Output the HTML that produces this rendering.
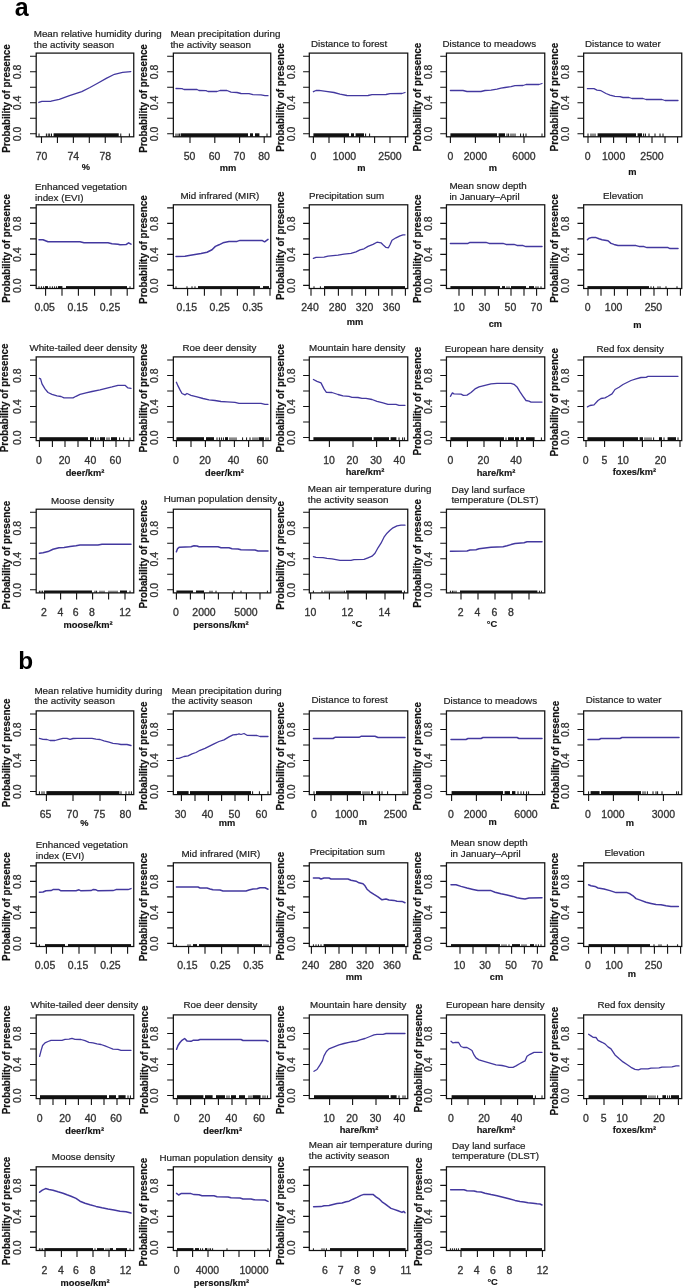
<!DOCTYPE html>
<html><head><meta charset="utf-8"><title>Figure</title>
<style>
html,body{margin:0;padding:0;background:#fff;}
svg{display:block;filter:blur(0.45px);font-family:"Liberation Sans",sans-serif;}
.tt{font-size:9.8px;fill:#222;stroke:#222;stroke-width:0.2px;}
.tk{font-size:10px;fill:#333;stroke:#333;stroke-width:0.3px;}
.yl{font-size:10.4px;font-weight:bold;fill:#111;stroke:#111;stroke-width:0.2px;}
.un{font-size:9.8px;font-weight:bold;fill:#111;stroke:#111;stroke-width:0.15px;}
.sec{font-size:25px;font-weight:bold;fill:#000;}
</style></head><body>
<svg width="685" height="1288" viewBox="0 0 685 1288">
<rect width="685" height="1288" fill="#fff"/>
<text class="sec" x="14.7" y="15.5">a</text>
<text class="sec" x="18.2" y="669.4" style="font-size:24.4px">b</text>
<g transform="translate(0,20.1)">
<rect x="36.2" y="33" width="97.55" height="83.7" fill="none" stroke="#111" stroke-width="1.25"/>
<path d="M30 113.6H36.2M30 98.1H36.2M30 82.6H36.2M30 67.1H36.2M30 51.6H36.2M30 36.1H36.2" stroke="#111" stroke-width="1.1" fill="none"/>
<text class="tk" transform="translate(20.8,113.9) rotate(-90) scale(1.05,1)" text-anchor="middle">0.0</text>
<text class="tk" transform="translate(20.8,82.9) rotate(-90) scale(1.05,1)" text-anchor="middle">0.4</text>
<text class="tk" transform="translate(20.8,51.9) rotate(-90) scale(1.05,1)" text-anchor="middle">0.8</text>
<text class="yl" transform="translate(10,78.48) rotate(-90) scale(0.945,1)" text-anchor="middle">Probability of presence</text>
<text class="tt" x="33.73" y="17.37">Mean relative humidity during</text>
<text class="tt" x="33.73" y="27.59">the activity season</text>
<path d="M41.49 116.7V123M57.43 116.7V123M73.37 116.7V123M89.31 116.7V123M105.25 116.7V123M121.19 116.7V123" stroke="#111" stroke-width="1.1" fill="none"/>
<text class="tk" transform="translate(41.49,139.9) scale(1.05,1)" text-anchor="middle">70</text>
<text class="tk" transform="translate(73.37,139.9) scale(1.05,1)" text-anchor="middle">74</text>
<text class="tk" transform="translate(105.25,139.9) scale(1.05,1)" text-anchor="middle">78</text>
<text class="un" transform="translate(85.84,150.3) scale(0.95,1)" text-anchor="middle">%</text>
<rect x="53.55" y="113.2" width="65.2" height="3.5" fill="#111"/>
<path d="M39.04 113.4V116.7M46.39 113.4V116.7M48.23 113.4V116.7M49.66 113.4V116.7M51.5 113.4V116.7M120.78 113.4V116.7M129.37 113.4V116.7" stroke="#111" stroke-width="1" fill="none"/>
<polyline points="38.83,82.36 41.9,81.34 51.09,81.14 59.27,79.3 69.49,75.62 81.75,71.53 89.92,67.44 98.1,62.95 106.27,58.25 114.45,54.16 122.62,52.32 130.8,51.5" fill="none" stroke="#43389f" stroke-width="1.3" stroke-linejoin="round" stroke-linecap="round"/>
</g>
<g transform="translate(137,20.1)">
<rect x="36.35" y="33" width="97.4" height="83.7" fill="none" stroke="#111" stroke-width="1.25"/>
<path d="M30.15 113.6H36.35M30.15 98.1H36.35M30.15 82.6H36.35M30.15 67.1H36.35M30.15 51.6H36.35M30.15 36.1H36.35" stroke="#111" stroke-width="1.1" fill="none"/>
<text class="tk" transform="translate(20.8,113.9) rotate(-90) scale(1.05,1)" text-anchor="middle">0.0</text>
<text class="tk" transform="translate(20.8,82.9) rotate(-90) scale(1.05,1)" text-anchor="middle">0.4</text>
<text class="tk" transform="translate(20.8,51.9) rotate(-90) scale(1.05,1)" text-anchor="middle">0.8</text>
<text class="yl" transform="translate(10,78.4) rotate(-90) scale(0.945,1)" text-anchor="middle">Probability of presence</text>
<text class="tt" x="33.4" y="17.4">Mean precipitation during</text>
<text class="tt" x="33.4" y="27.6">the activity season</text>
<path d="M53 116.7V123M77.8 116.7V123M102.6 116.7V123M127.2 116.7V123" stroke="#111" stroke-width="1.1" fill="none"/>
<text class="tk" transform="translate(52.6,139.9) scale(1.05,1)" text-anchor="middle">50</text>
<text class="tk" transform="translate(77.6,139.9) scale(1.05,1)" text-anchor="middle">60</text>
<text class="tk" transform="translate(102.4,139.9) scale(1.05,1)" text-anchor="middle">70</text>
<text class="tk" transform="translate(127,139.9) scale(1.05,1)" text-anchor="middle">80</text>
<text class="un" transform="translate(91,151.1) scale(0.95,1)" text-anchor="middle">mm</text>
<rect x="43.6" y="113.2" width="67.4" height="3.5" fill="#111"/>
<rect x="113" y="113.2" width="3" height="3.5" fill="#111"/>
<rect x="118" y="113.2" width="4.4" height="3.5" fill="#111"/>
<path d="M39 113.4V116.7M41 113.4V116.7M42.4 113.4V116.7M130 113.4V116.7" stroke="#111" stroke-width="1" fill="none"/>
<polyline points="39,68.4 45,68.6 47,69.4 60,69.4 62,70.4 69,70.6 71,71.4 80,71.4 83,70.4 90,70.4 94,72 100,72.4 104,73.4 112,73.6 116,74.6 124,74.8 128,75.6 131,75.6" fill="none" stroke="#43389f" stroke-width="1.3" stroke-linejoin="round" stroke-linecap="round"/>
</g>
<g transform="translate(274,20.1)">
<rect x="35.3" y="33" width="98.45" height="83.7" fill="none" stroke="#111" stroke-width="1.25"/>
<path d="M29.1 113.6H35.3M29.1 98.1H35.3M29.1 82.6H35.3M29.1 67.1H35.3M29.1 51.6H35.3M29.1 36.1H35.3" stroke="#111" stroke-width="1.1" fill="none"/>
<text class="tk" transform="translate(20.8,113.9) rotate(-90) scale(1.05,1)" text-anchor="middle">0.0</text>
<text class="tk" transform="translate(20.8,82.9) rotate(-90) scale(1.05,1)" text-anchor="middle">0.4</text>
<text class="tk" transform="translate(20.8,51.9) rotate(-90) scale(1.05,1)" text-anchor="middle">0.8</text>
<text class="yl" transform="translate(10,77.4) rotate(-90) scale(0.945,1)" text-anchor="middle">Probability of presence</text>
<text class="tt" x="37" y="26.6">Distance to forest</text>
<path d="M39.4 116.7V123M55 116.7V123M70.4 116.7V123M85.6 116.7V123M100.6 116.7V123M116 116.7V123M131.4 116.7V123" stroke="#111" stroke-width="1.1" fill="none"/>
<text class="tk" transform="translate(39.4,139.9) scale(1.05,1)" text-anchor="middle">0</text>
<text class="tk" transform="translate(70.4,139.9) scale(1.05,1)" text-anchor="middle">1000</text>
<text class="tk" transform="translate(116,139.9) scale(1.05,1)" text-anchor="middle">2500</text>
<text class="un" transform="translate(87.4,151.1) scale(0.95,1)" text-anchor="middle">m</text>
<rect x="39.4" y="113.2" width="35.6" height="3.5" fill="#111"/>
<rect x="77" y="113.2" width="3" height="3.5" fill="#111"/>
<rect x="81.6" y="113.2" width="8.4" height="3.5" fill="#111"/>
<path d="M91.6 113.4V116.7M95.6 113.4V116.7" stroke="#111" stroke-width="1" fill="none"/>
<polyline points="39.4,71.6 42,70.4 45,70.2 52,71.2 60,72.4 66,74 73,75.4 80,75.6 94,75.4 98,74.6 112,74.4 116,73.6 128,73.4 131,72.4" fill="none" stroke="#43389f" stroke-width="1.3" stroke-linejoin="round" stroke-linecap="round"/>
</g>
<g transform="translate(411,20.1)">
<rect x="35.45" y="33" width="98.3" height="83.7" fill="none" stroke="#111" stroke-width="1.25"/>
<path d="M29.25 113.6H35.45M29.25 98.1H35.45M29.25 82.6H35.45M29.25 67.1H35.45M29.25 51.6H35.45M29.25 36.1H35.45" stroke="#111" stroke-width="1.1" fill="none"/>
<text class="tk" transform="translate(20.8,113.9) rotate(-90) scale(1.05,1)" text-anchor="middle">0.0</text>
<text class="tk" transform="translate(20.8,82.9) rotate(-90) scale(1.05,1)" text-anchor="middle">0.4</text>
<text class="tk" transform="translate(20.8,51.9) rotate(-90) scale(1.05,1)" text-anchor="middle">0.8</text>
<text class="yl" transform="translate(10,77) rotate(-90) scale(0.945,1)" text-anchor="middle">Probability of presence</text>
<text class="tt" x="31.4" y="27.4">Distance to meadows</text>
<path d="M39.4 116.7V123M64.4 116.7V123M88.6 116.7V123M113 116.7V123" stroke="#111" stroke-width="1.1" fill="none"/>
<text class="tk" transform="translate(39.4,139.9) scale(1.05,1)" text-anchor="middle">0</text>
<text class="tk" transform="translate(64.4,139.9) scale(1.05,1)" text-anchor="middle">2000</text>
<text class="tk" transform="translate(113,139.9) scale(1.05,1)" text-anchor="middle">6000</text>
<text class="un" transform="translate(82,150.7) scale(0.95,1)" text-anchor="middle">m</text>
<rect x="39.4" y="113.2" width="46.6" height="3.5" fill="#111"/>
<rect x="87.6" y="113.2" width="6.4" height="3.5" fill="#111"/>
<path d="M96 113.4V116.7M97.6 113.4V116.7M100 113.4V116.7M102 113.4V116.7M104 113.4V116.7M109.6 113.4V116.7M112.4 113.4V116.7M115 113.4V116.7M131 113.4V116.7" stroke="#111" stroke-width="1" fill="none"/>
<polyline points="39.4,70.4 52,70.4 56,71.4 70,71.4 74,70.4 80,70 86,69 90,68 94,67.4 100,66.6 104,65.6 112,65.4 115,64.4 128,64.4 131,63.4" fill="none" stroke="#43389f" stroke-width="1.3" stroke-linejoin="round" stroke-linecap="round"/>
</g>
<g transform="translate(548,20.1)">
<rect x="35.65" y="33" width="98.1" height="83.7" fill="none" stroke="#111" stroke-width="1.25"/>
<path d="M29.45 113.6H35.65M29.45 98.1H35.65M29.45 82.6H35.65M29.45 67.1H35.65M29.45 51.6H35.65M29.45 36.1H35.65" stroke="#111" stroke-width="1.1" fill="none"/>
<text class="tk" transform="translate(20.8,113.9) rotate(-90) scale(1.05,1)" text-anchor="middle">0.0</text>
<text class="tk" transform="translate(20.8,82.9) rotate(-90) scale(1.05,1)" text-anchor="middle">0.4</text>
<text class="tk" transform="translate(20.8,51.9) rotate(-90) scale(1.05,1)" text-anchor="middle">0.8</text>
<text class="yl" transform="translate(10,77) rotate(-90) scale(0.945,1)" text-anchor="middle">Probability of presence</text>
<text class="tt" x="37" y="26.6">Distance to water</text>
<path d="M40 116.7V123M52.6 116.7V123M65.6 116.7V123M78.4 116.7V123M91.4 116.7V123M104 116.7V123M117 116.7V123M129.6 116.7V123" stroke="#111" stroke-width="1.1" fill="none"/>
<text class="tk" transform="translate(39.6,139.9) scale(1.05,1)" text-anchor="middle">0</text>
<text class="tk" transform="translate(65.6,139.9) scale(1.05,1)" text-anchor="middle">1000</text>
<text class="tk" transform="translate(104,139.9) scale(1.05,1)" text-anchor="middle">2500</text>
<text class="un" transform="translate(84.4,155.1) scale(0.95,1)" text-anchor="middle">m</text>
<rect x="49.6" y="113.2" width="38.4" height="3.5" fill="#111"/>
<rect x="89.6" y="113.2" width="4.4" height="3.5" fill="#111"/>
<path d="M40 113.4V116.7M43 113.4V116.7M45 113.4V116.7M47 113.4V116.7M95.6 113.4V116.7M97.4 113.4V116.7M101 113.4V116.7M107 113.4V116.7M112 113.4V116.7M115 113.4V116.7" stroke="#111" stroke-width="1" fill="none"/>
<polyline points="39.4,68.6 46,68.6 49,70 53,70.6 58,73.4 62,75 67,76.2 72,76.6 75,77.4 81,77.4 84,78.4 95,78.4 98,79.4 114,79.4 117,80.4 130,80.4" fill="none" stroke="#43389f" stroke-width="1.3" stroke-linejoin="round" stroke-linecap="round"/>
</g>
<g transform="translate(0,171.8)">
<rect x="36.2" y="33" width="97.55" height="83.7" fill="none" stroke="#111" stroke-width="1.25"/>
<path d="M30 113.6H36.2M30 98.1H36.2M30 82.6H36.2M30 67.1H36.2M30 51.6H36.2M30 36.1H36.2" stroke="#111" stroke-width="1.1" fill="none"/>
<text class="tk" transform="translate(20.8,113.9) rotate(-90) scale(1.05,1)" text-anchor="middle">0.0</text>
<text class="tk" transform="translate(20.8,82.9) rotate(-90) scale(1.05,1)" text-anchor="middle">0.4</text>
<text class="tk" transform="translate(20.8,51.9) rotate(-90) scale(1.05,1)" text-anchor="middle">0.8</text>
<text class="yl" transform="translate(10,76.6) rotate(-90) scale(0.945,1)" text-anchor="middle">Probability of presence</text>
<text class="tt" x="35" y="18.6">Enhanced vegetation</text>
<text class="tt" x="35" y="29.6">index (EVI)</text>
<path d="M45.6 116.7V123.9M62 116.7V123.9M78.4 116.7V123.9M94.6 116.7V123.9M111 116.7V123.9M127.2 116.7V123.9" stroke="#111" stroke-width="1.1" fill="none"/>
<text class="tk" transform="translate(44.6,139) scale(1.05,1)" text-anchor="middle">0.05</text>
<text class="tk" transform="translate(77.6,139) scale(1.05,1)" text-anchor="middle">0.15</text>
<text class="tk" transform="translate(110,139) scale(1.05,1)" text-anchor="middle">0.25</text>
<rect x="45" y="114.3" width="3" height="2.4" fill="#111"/>
<rect x="58" y="114.3" width="4.4" height="2.4" fill="#111"/>
<rect x="66" y="114.3" width="61" height="2.4" fill="#111"/>
<path d="M39 114.5V116.7M41.4 114.5V116.7M43.6 114.5V116.7M50 114.5V116.7M52.4 114.5V116.7M54.6 114.5V116.7M56.6 114.5V116.7M130 114.5V116.7" stroke="#111" stroke-width="1" fill="none"/>
<polyline points="39,68 43,68 48,70 80,70 84,71 108,71 112,72 118,72.4 120,73 126,72.8 128.6,71 131,72.4" fill="none" stroke="#43389f" stroke-width="1.5" stroke-linejoin="round" stroke-linecap="round"/>
</g>
<g transform="translate(137,171.8)">
<rect x="36.35" y="33" width="97.4" height="83.7" fill="none" stroke="#111" stroke-width="1.25"/>
<path d="M30.15 113.6H36.35M30.15 98.1H36.35M30.15 82.6H36.35M30.15 67.1H36.35M30.15 51.6H36.35M30.15 36.1H36.35" stroke="#111" stroke-width="1.1" fill="none"/>
<text class="tk" transform="translate(20.8,113.9) rotate(-90) scale(1.05,1)" text-anchor="middle">0.0</text>
<text class="tk" transform="translate(20.8,82.9) rotate(-90) scale(1.05,1)" text-anchor="middle">0.4</text>
<text class="tk" transform="translate(20.8,51.9) rotate(-90) scale(1.05,1)" text-anchor="middle">0.8</text>
<text class="yl" transform="translate(10,77.8) rotate(-90) scale(0.945,1)" text-anchor="middle">Probability of presence</text>
<text class="tt" x="43.4" y="27.6">Mid infrared (MIR)</text>
<path d="M50.6 116.7V123.9M67.4 116.7V123.9M84 116.7V123.9M100.4 116.7V123.9M117 116.7V123.9M133 116.7V123.9" stroke="#111" stroke-width="1.1" fill="none"/>
<text class="tk" transform="translate(49.8,139) scale(1.05,1)" text-anchor="middle">0.15</text>
<text class="tk" transform="translate(82.6,139) scale(1.05,1)" text-anchor="middle">0.25</text>
<text class="tk" transform="translate(115.6,139) scale(1.05,1)" text-anchor="middle">0.35</text>
<rect x="61" y="114.3" width="62" height="2.4" fill="#111"/>
<rect x="126" y="114.3" width="6" height="2.4" fill="#111"/>
<path d="M39 114.5V116.7M50 114.5V116.7M55 114.5V116.7M58 114.5V116.7" stroke="#111" stroke-width="1" fill="none"/>
<polyline points="39,84.6 48,84.4 52,83.6 58,82.6 64,81.6 70,80.4 75,78 78.4,74.6 82,73 86,71 92,69.8 100,69.6 103,68.6 125,68.6 127.6,70 131,67.6" fill="none" stroke="#43389f" stroke-width="1.5" stroke-linejoin="round" stroke-linecap="round"/>
</g>
<g transform="translate(274,171.8)">
<rect x="35.3" y="33" width="98.45" height="83.7" fill="none" stroke="#111" stroke-width="1.25"/>
<path d="M29.1 113.6H35.3M29.1 98.1H35.3M29.1 82.6H35.3M29.1 67.1H35.3M29.1 51.6H35.3M29.1 36.1H35.3" stroke="#111" stroke-width="1.1" fill="none"/>
<text class="tk" transform="translate(20.8,113.9) rotate(-90) scale(1.05,1)" text-anchor="middle">0.0</text>
<text class="tk" transform="translate(20.8,82.9) rotate(-90) scale(1.05,1)" text-anchor="middle">0.4</text>
<text class="tk" transform="translate(20.8,51.9) rotate(-90) scale(1.05,1)" text-anchor="middle">0.8</text>
<text class="yl" transform="translate(10,74) rotate(-90) scale(0.945,1)" text-anchor="middle">Probability of presence</text>
<text class="tt" x="35" y="27">Precipitation sum</text>
<path d="M37 116.7V123.9M50.6 116.7V123.9M64.4 116.7V123.9M78 116.7V123.9M91.6 116.7V123.9M104.6 116.7V123.9M118 116.7V123.9M131.4 116.7V123.9" stroke="#111" stroke-width="1.1" fill="none"/>
<text class="tk" transform="translate(36,139) scale(1.05,1)" text-anchor="middle">240</text>
<text class="tk" transform="translate(63.6,139) scale(1.05,1)" text-anchor="middle">280</text>
<text class="tk" transform="translate(90.6,139) scale(1.05,1)" text-anchor="middle">320</text>
<text class="tk" transform="translate(117.6,139) scale(1.05,1)" text-anchor="middle">360</text>
<text class="un" transform="translate(81,152.7) scale(0.95,1)" text-anchor="middle">mm</text>
<rect x="50" y="114.3" width="81" height="2.4" fill="#111"/>
<path d="M40 114.5V116.7M46.4 114.5V116.7" stroke="#111" stroke-width="1" fill="none"/>
<polyline points="39.4,86.6 42,85.6 50,85.4 54,84.4 64,83.4 70,82.4 77,81.6 82,80 86,78 90,77 94,74.6 99,72.6 103,70.4 107,71 109,73 112,75.6 114.4,76 116,73 118,68.4 122,66 126,64 129,63 131,63" fill="none" stroke="#43389f" stroke-width="1.3" stroke-linejoin="round" stroke-linecap="round"/>
</g>
<g transform="translate(411,171.8)">
<rect x="35.45" y="33" width="98.3" height="83.7" fill="none" stroke="#111" stroke-width="1.25"/>
<path d="M29.25 113.6H35.45M29.25 98.1H35.45M29.25 82.6H35.45M29.25 67.1H35.45M29.25 51.6H35.45M29.25 36.1H35.45" stroke="#111" stroke-width="1.1" fill="none"/>
<text class="tk" transform="translate(20.8,113.9) rotate(-90) scale(1.05,1)" text-anchor="middle">0.0</text>
<text class="tk" transform="translate(20.8,82.9) rotate(-90) scale(1.05,1)" text-anchor="middle">0.4</text>
<text class="tk" transform="translate(20.8,51.9) rotate(-90) scale(1.05,1)" text-anchor="middle">0.8</text>
<text class="yl" transform="translate(10,77) rotate(-90) scale(0.945,1)" text-anchor="middle">Probability of presence</text>
<text class="tt" x="38.4" y="17.6">Mean snow depth</text>
<text class="tt" x="38.4" y="28">in January–April</text>
<path d="M48 116.7V123.9M61.4 116.7V123.9M74 116.7V123.9M87.4 116.7V123.9M100 116.7V123.9M113 116.7V123.9M125.6 116.7V123.9" stroke="#111" stroke-width="1.1" fill="none"/>
<text class="tk" transform="translate(48,139) scale(1.05,1)" text-anchor="middle">10</text>
<text class="tk" transform="translate(73.4,139) scale(1.05,1)" text-anchor="middle">30</text>
<text class="tk" transform="translate(99.4,139) scale(1.05,1)" text-anchor="middle">50</text>
<text class="tk" transform="translate(125.4,139) scale(1.05,1)" text-anchor="middle">70</text>
<text class="un" transform="translate(84.4,155.1) scale(0.95,1)" text-anchor="middle">cm</text>
<rect x="39.4" y="114.3" width="49.6" height="2.4" fill="#111"/>
<rect x="91" y="114.3" width="3" height="2.4" fill="#111"/>
<rect x="100" y="114.3" width="15" height="2.4" fill="#111"/>
<rect x="118" y="114.3" width="5" height="2.4" fill="#111"/>
<path d="M96 114.5V116.7M98 114.5V116.7M125 114.5V116.7M127 114.5V116.7M130 114.5V116.7" stroke="#111" stroke-width="1" fill="none"/>
<polyline points="39.4,71.6 57,71.6 59,70.6 75,70.6 78,71.6 92,71.6 95,72.6 103,72.6 106,73.6 112,73.8 115,74.8 131,74.8" fill="none" stroke="#43389f" stroke-width="1.5" stroke-linejoin="round" stroke-linecap="round"/>
</g>
<g transform="translate(548,171.8)">
<rect x="35.65" y="33" width="98.1" height="83.7" fill="none" stroke="#111" stroke-width="1.25"/>
<path d="M29.45 113.6H35.65M29.45 98.1H35.65M29.45 82.6H35.65M29.45 67.1H35.65M29.45 51.6H35.65M29.45 36.1H35.65" stroke="#111" stroke-width="1.1" fill="none"/>
<text class="tk" transform="translate(20.8,113.9) rotate(-90) scale(1.05,1)" text-anchor="middle">0.0</text>
<text class="tk" transform="translate(20.8,82.9) rotate(-90) scale(1.05,1)" text-anchor="middle">0.4</text>
<text class="tk" transform="translate(20.8,51.9) rotate(-90) scale(1.05,1)" text-anchor="middle">0.8</text>
<text class="yl" transform="translate(10,76.6) rotate(-90) scale(0.945,1)" text-anchor="middle">Probability of presence</text>
<text class="tt" x="55" y="27.4">Elevation</text>
<path d="M40 116.7V123.9M53 116.7V123.9M66.4 116.7V123.9M79.4 116.7V123.9M92.6 116.7V123.9M106 116.7V123.9M119.4 116.7V123.9M132.4 116.7V123.9" stroke="#111" stroke-width="1.1" fill="none"/>
<text class="tk" transform="translate(39.6,139) scale(1.05,1)" text-anchor="middle">0</text>
<text class="tk" transform="translate(65.6,139) scale(1.05,1)" text-anchor="middle">100</text>
<text class="tk" transform="translate(105.4,139) scale(1.05,1)" text-anchor="middle">250</text>
<text class="un" transform="translate(89.4,155.7) scale(0.95,1)" text-anchor="middle">m</text>
<rect x="39.4" y="114.3" width="61.6" height="2.4" fill="#111"/>
<path d="M103 114.5V116.7M105.6 114.5V116.7M110 114.5V116.7M112 114.5V116.7M118 114.5V116.7M129 114.5V116.7" stroke="#111" stroke-width="1" fill="none"/>
<polyline points="39.4,68 41,66.4 44,65.6 48,65.8 51,67 54,68 57,68.4 60,69 63,71.6 66,72.6 70,73.6 88,73.8 91,74.6 96,74.8 99,75.8 120,75.8 122,76.8 130,76.8" fill="none" stroke="#43389f" stroke-width="1.5" stroke-linejoin="round" stroke-linecap="round"/>
</g>
<g transform="translate(0,323.9)">
<rect x="36.2" y="33" width="97.55" height="83.7" fill="none" stroke="#111" stroke-width="1.25"/>
<path d="M30 113.6H36.2M30 98.1H36.2M30 82.6H36.2M30 67.1H36.2M30 51.6H36.2M30 36.1H36.2" stroke="#111" stroke-width="1.1" fill="none"/>
<text class="tk" transform="translate(20.8,113.9) rotate(-90) scale(1.05,1)" text-anchor="middle">0.0</text>
<text class="tk" transform="translate(20.8,82.9) rotate(-90) scale(1.05,1)" text-anchor="middle">0.4</text>
<text class="tk" transform="translate(20.8,51.9) rotate(-90) scale(1.05,1)" text-anchor="middle">0.8</text>
<text class="yl" transform="translate(7.8,74) rotate(-90) scale(0.945,1)" text-anchor="middle">Probability of presence</text>
<text class="tt" x="29.4" y="27">White-tailed deer density</text>
<path d="M39.4 116.7V123M52.4 116.7V123M65 116.7V123M78 116.7V123M90.6 116.7V123M103.4 116.7V123M116 116.7V123M129 116.7V123" stroke="#111" stroke-width="1.1" fill="none"/>
<text class="tk" transform="translate(39,139.9) scale(1.05,1)" text-anchor="middle">0</text>
<text class="tk" transform="translate(64.6,139.9) scale(1.05,1)" text-anchor="middle">20</text>
<text class="tk" transform="translate(90.4,139.9) scale(1.05,1)" text-anchor="middle">40</text>
<text class="tk" transform="translate(115.4,139.9) scale(1.05,1)" text-anchor="middle">60</text>
<text class="un" transform="translate(85,152.1) scale(0.95,1)" text-anchor="middle">deer/km²</text>
<rect x="39.4" y="113.3" width="48.6" height="3.4" fill="#111"/>
<rect x="90" y="113.3" width="4" height="3.4" fill="#111"/>
<rect x="100" y="113.3" width="5" height="3.4" fill="#111"/>
<rect x="111" y="113.3" width="6" height="3.4" fill="#111"/>
<path d="M95.6 113.5V116.7M98 113.5V116.7M107 113.5V116.7M109 113.5V116.7M119.6 113.5V116.7M123.6 113.5V116.7M130 113.5V116.7" stroke="#111" stroke-width="1" fill="none"/>
<polyline points="39.4,54.4 40.6,55 42,60 45,65 48,68.6 52,70.4 57,72 61,72.6 64,74 73,74 76,72.4 80,70.4 86,69 92,67.6 100,66 106,64.4 112,63 118,61.4 125,61.4 128,64 131,64.4" fill="none" stroke="#43389f" stroke-width="1.3" stroke-linejoin="round" stroke-linecap="round"/>
</g>
<g transform="translate(137,323.9)">
<rect x="36.35" y="33" width="97.4" height="83.7" fill="none" stroke="#111" stroke-width="1.25"/>
<path d="M30.15 113.6H36.35M30.15 98.1H36.35M30.15 82.6H36.35M30.15 67.1H36.35M30.15 51.6H36.35M30.15 36.1H36.35" stroke="#111" stroke-width="1.1" fill="none"/>
<text class="tk" transform="translate(20.8,113.9) rotate(-90) scale(1.05,1)" text-anchor="middle">0.0</text>
<text class="tk" transform="translate(20.8,82.9) rotate(-90) scale(1.05,1)" text-anchor="middle">0.4</text>
<text class="tk" transform="translate(20.8,51.9) rotate(-90) scale(1.05,1)" text-anchor="middle">0.8</text>
<text class="yl" transform="translate(10,74.2) rotate(-90) scale(0.945,1)" text-anchor="middle">Probability of presence</text>
<text class="tt" x="45.4" y="27">Roe deer density</text>
<path d="M39.4 116.7V123M54 116.7V123M68.4 116.7V123M83 116.7V123M97.4 116.7V123M111.6 116.7V123M126 116.7V123" stroke="#111" stroke-width="1.1" fill="none"/>
<text class="tk" transform="translate(39,139.9) scale(1.05,1)" text-anchor="middle">0</text>
<text class="tk" transform="translate(68,139.9) scale(1.05,1)" text-anchor="middle">20</text>
<text class="tk" transform="translate(96.6,139.9) scale(1.05,1)" text-anchor="middle">40</text>
<text class="tk" transform="translate(125.4,139.9) scale(1.05,1)" text-anchor="middle">60</text>
<text class="un" transform="translate(87.4,152.1) scale(0.95,1)" text-anchor="middle">deer/km²</text>
<rect x="39.4" y="113.3" width="27.6" height="3.4" fill="#111"/>
<rect x="69" y="113.3" width="8" height="3.4" fill="#111"/>
<rect x="88" y="113.3" width="3" height="3.4" fill="#111"/>
<rect x="121.6" y="113.3" width="5.4" height="3.4" fill="#111"/>
<path d="M80 113.5V116.7M82.4 113.5V116.7M84.4 113.5V116.7M86.4 113.5V116.7M93 113.5V116.7M95 113.5V116.7M97 113.5V116.7M99 113.5V116.7M105.6 113.5V116.7M109.6 113.5V116.7M113 113.5V116.7M116 113.5V116.7M118 113.5V116.7M120 113.5V116.7M129 113.5V116.7M131 113.5V116.7" stroke="#111" stroke-width="1" fill="none"/>
<polyline points="39.4,58.4 41,62 43,66 45,69.6 48,71 50,69.6 54,71.4 60,73 66,74.6 72,76 78,76.6 84,77.6 90,78 98,78.4 102,79.4 124,79.4 128,80.4 131,80.4" fill="none" stroke="#43389f" stroke-width="1.3" stroke-linejoin="round" stroke-linecap="round"/>
</g>
<g transform="translate(274,323.9)">
<rect x="35.3" y="33" width="98.45" height="83.7" fill="none" stroke="#111" stroke-width="1.25"/>
<path d="M29.1 113.6H35.3M29.1 98.1H35.3M29.1 82.6H35.3M29.1 67.1H35.3M29.1 51.6H35.3M29.1 36.1H35.3" stroke="#111" stroke-width="1.1" fill="none"/>
<text class="tk" transform="translate(20.8,113.9) rotate(-90) scale(1.05,1)" text-anchor="middle">0.0</text>
<text class="tk" transform="translate(20.8,82.9) rotate(-90) scale(1.05,1)" text-anchor="middle">0.4</text>
<text class="tk" transform="translate(20.8,51.9) rotate(-90) scale(1.05,1)" text-anchor="middle">0.8</text>
<text class="yl" transform="translate(10,74.4) rotate(-90) scale(0.945,1)" text-anchor="middle">Probability of presence</text>
<text class="tt" x="35" y="27">Mountain hare density</text>
<path d="M55.4 116.7V123M79 116.7V123M102.6 116.7V123M125.6 116.7V123" stroke="#111" stroke-width="1.1" fill="none"/>
<text class="tk" transform="translate(55,139.9) scale(1.05,1)" text-anchor="middle">10</text>
<text class="tk" transform="translate(78.4,139.9) scale(1.05,1)" text-anchor="middle">20</text>
<text class="tk" transform="translate(102,139.9) scale(1.05,1)" text-anchor="middle">30</text>
<text class="tk" transform="translate(125.4,139.9) scale(1.05,1)" text-anchor="middle">40</text>
<text class="un" transform="translate(91,150.9) scale(0.95,1)" text-anchor="middle">hare/km²</text>
<rect x="39.4" y="113.3" width="58.6" height="3.4" fill="#111"/>
<rect x="99.6" y="113.3" width="15.4" height="3.4" fill="#111"/>
<rect x="116.6" y="113.3" width="5.8" height="3.4" fill="#111"/>
<path d="M125 113.5V116.7M128.6 113.5V116.7M130.4 113.5V116.7" stroke="#111" stroke-width="1" fill="none"/>
<polyline points="39.4,55.6 43,57.4 47,59 50,65 52.4,68.4 58,68.6 64,70.6 69,72 75,72.4 78,73.4 84,73.6 88,74.4 92,74.4 98,75.6 103,77.4 109,79 114,80.4 122,80.4 125,81.4 131,81.4" fill="none" stroke="#43389f" stroke-width="1.3" stroke-linejoin="round" stroke-linecap="round"/>
</g>
<g transform="translate(411,323.9)">
<rect x="35.45" y="33" width="98.3" height="83.7" fill="none" stroke="#111" stroke-width="1.25"/>
<path d="M29.25 113.6H35.45M29.25 98.1H35.45M29.25 82.6H35.45M29.25 67.1H35.45M29.25 51.6H35.45M29.25 36.1H35.45" stroke="#111" stroke-width="1.1" fill="none"/>
<text class="tk" transform="translate(20.8,113.9) rotate(-90) scale(1.05,1)" text-anchor="middle">0.0</text>
<text class="tk" transform="translate(20.8,82.9) rotate(-90) scale(1.05,1)" text-anchor="middle">0.4</text>
<text class="tk" transform="translate(20.8,51.9) rotate(-90) scale(1.05,1)" text-anchor="middle">0.8</text>
<text class="yl" transform="translate(10,77.2) rotate(-90) scale(0.945,1)" text-anchor="middle">Probability of presence</text>
<text class="tt" x="33.8" y="28.2">European hare density</text>
<path d="M39.6 116.7V123M56.4 116.7V123M73 116.7V123M89.4 116.7V123M106 116.7V123M122.4 116.7V123" stroke="#111" stroke-width="1.1" fill="none"/>
<text class="tk" transform="translate(39.4,139.9) scale(1.05,1)" text-anchor="middle">0</text>
<text class="tk" transform="translate(72.4,139.9) scale(1.05,1)" text-anchor="middle">20</text>
<text class="tk" transform="translate(105,139.9) scale(1.05,1)" text-anchor="middle">40</text>
<text class="un" transform="translate(85,151.7) scale(0.95,1)" text-anchor="middle">hare/km²</text>
<rect x="39.4" y="113.3" width="53.6" height="3.4" fill="#111"/>
<rect x="97" y="113.3" width="6" height="3.4" fill="#111"/>
<rect x="104" y="113.3" width="4" height="3.4" fill="#111"/>
<rect x="109.6" y="113.3" width="3.4" height="3.4" fill="#111"/>
<rect x="115" y="113.3" width="8.6" height="3.4" fill="#111"/>
<path d="M95 113.5V116.7M130.4 113.5V116.7" stroke="#111" stroke-width="1" fill="none"/>
<polyline points="39.4,72.4 41.4,69 43,70 50,70.2 52.4,71.4 56,71.2 60,68.6 64,65 68,63 74,61.4 80,60 86,59.4 100,59.4 103,60.4 106,63 109,68 112,72.4 115,76.6 118,77.2 120,78.2 131,78.2" fill="none" stroke="#43389f" stroke-width="1.3" stroke-linejoin="round" stroke-linecap="round"/>
</g>
<g transform="translate(548,323.9)">
<rect x="35.65" y="33" width="98.1" height="83.7" fill="none" stroke="#111" stroke-width="1.25"/>
<path d="M29.45 113.6H35.65M29.45 98.1H35.65M29.45 82.6H35.65M29.45 67.1H35.65M29.45 51.6H35.65M29.45 36.1H35.65" stroke="#111" stroke-width="1.1" fill="none"/>
<text class="tk" transform="translate(20.8,113.9) rotate(-90) scale(1.05,1)" text-anchor="middle">0.0</text>
<text class="tk" transform="translate(20.8,82.9) rotate(-90) scale(1.05,1)" text-anchor="middle">0.4</text>
<text class="tk" transform="translate(20.8,51.9) rotate(-90) scale(1.05,1)" text-anchor="middle">0.8</text>
<text class="yl" transform="translate(10,78.4) rotate(-90) scale(0.945,1)" text-anchor="middle">Probability of presence</text>
<text class="tt" x="48.4" y="28">Red fox density</text>
<path d="M38 116.7V123M56.6 116.7V123M75.4 116.7V123M94.4 116.7V123M113.4 116.7V123M132 116.7V123" stroke="#111" stroke-width="1.1" fill="none"/>
<text class="tk" transform="translate(37.6,139.9) scale(1.05,1)" text-anchor="middle">0</text>
<text class="tk" transform="translate(56.4,139.9) scale(1.05,1)" text-anchor="middle">5</text>
<text class="tk" transform="translate(75,139.9) scale(1.05,1)" text-anchor="middle">10</text>
<text class="tk" transform="translate(112.6,139.9) scale(1.05,1)" text-anchor="middle">20</text>
<text class="un" transform="translate(86.4,151.3) scale(0.95,1)" text-anchor="middle">foxes/km²</text>
<rect x="39.4" y="113.3" width="50.6" height="3.4" fill="#111"/>
<rect x="91.6" y="113.3" width="3.4" height="3.4" fill="#111"/>
<rect x="111" y="113.3" width="3" height="3.4" fill="#111"/>
<rect x="119.6" y="113.3" width="8.4" height="3.4" fill="#111"/>
<path d="M97 113.5V116.7M99 113.5V116.7M101 113.5V116.7M103 113.5V116.7M105.6 113.5V116.7M116 113.5V116.7M130 113.5V116.7" stroke="#111" stroke-width="1" fill="none"/>
<polyline points="39.4,83 42,81.6 46,81 50,76.6 53,74.6 57,74 60,72.4 64,70 67,65.6 71,63.4 75,60.6 79,58.6 83,56.6 88,55 93,53.6 98,53.4 100,52.4 130,52.4" fill="none" stroke="#43389f" stroke-width="1.3" stroke-linejoin="round" stroke-linecap="round"/>
</g>
<g transform="translate(0,476.2)">
<rect x="36.2" y="33" width="97.55" height="83.7" fill="none" stroke="#111" stroke-width="1.25"/>
<path d="M30 113.6H36.2M30 98.1H36.2M30 82.6H36.2M30 67.1H36.2M30 51.6H36.2M30 36.1H36.2" stroke="#111" stroke-width="1.1" fill="none"/>
<text class="tk" transform="translate(20.8,113.9) rotate(-90) scale(1.05,1)" text-anchor="middle">0.0</text>
<text class="tk" transform="translate(20.8,82.9) rotate(-90) scale(1.05,1)" text-anchor="middle">0.4</text>
<text class="tk" transform="translate(20.8,51.9) rotate(-90) scale(1.05,1)" text-anchor="middle">0.8</text>
<text class="yl" transform="translate(10,79) rotate(-90) scale(0.945,1)" text-anchor="middle">Probability of presence</text>
<text class="tt" x="51" y="27.8">Moose density</text>
<path d="M44.6 116.7V123.2M60.6 116.7V123.2M76.6 116.7V123.2M92.6 116.7V123.2M108.6 116.7V123.2M125 116.7V123.2" stroke="#111" stroke-width="1.1" fill="none"/>
<text class="tk" transform="translate(44,139.7) scale(1.05,1)" text-anchor="middle">2</text>
<text class="tk" transform="translate(60.4,139.7) scale(1.05,1)" text-anchor="middle">4</text>
<text class="tk" transform="translate(75.6,139.7) scale(1.05,1)" text-anchor="middle">6</text>
<text class="tk" transform="translate(92,139.7) scale(1.05,1)" text-anchor="middle">8</text>
<text class="tk" transform="translate(125,139.7) scale(1.05,1)" text-anchor="middle">12</text>
<text class="un" transform="translate(88,152.1) scale(0.95,1)" text-anchor="middle">moose/km²</text>
<rect x="44" y="114.3" width="48" height="2.4" fill="#111"/>
<rect x="120" y="114.3" width="7" height="2.4" fill="#111"/>
<path d="M39.4 114.5V116.7M41 114.5V116.7M42.6 114.5V116.7M95 114.5V116.7M96.6 114.5V116.7M100 114.5V116.7M102 114.5V116.7M104 114.5V116.7M109 114.5V116.7M111 114.5V116.7M113 114.5V116.7M115 114.5V116.7M117 114.5V116.7M130 114.5V116.7" stroke="#111" stroke-width="1" fill="none"/>
<polyline points="39.4,77 43,76.6 48,75.4 53,73 59,71.6 64,71.2 70,70.4 76,69.6 80,68.8 98,68.8 102,68 131,68" fill="none" stroke="#43389f" stroke-width="1.5" stroke-linejoin="round" stroke-linecap="round"/>
</g>
<g transform="translate(137,476.2)">
<rect x="36.35" y="33" width="97.4" height="83.7" fill="none" stroke="#111" stroke-width="1.25"/>
<path d="M30.15 113.6H36.35M30.15 98.1H36.35M30.15 82.6H36.35M30.15 67.1H36.35M30.15 51.6H36.35M30.15 36.1H36.35" stroke="#111" stroke-width="1.1" fill="none"/>
<text class="tk" transform="translate(20.8,113.9) rotate(-90) scale(1.05,1)" text-anchor="middle">0.0</text>
<text class="tk" transform="translate(20.8,82.9) rotate(-90) scale(1.05,1)" text-anchor="middle">0.4</text>
<text class="tk" transform="translate(20.8,51.9) rotate(-90) scale(1.05,1)" text-anchor="middle">0.8</text>
<text class="yl" transform="translate(10,78) rotate(-90) scale(0.945,1)" text-anchor="middle">Probability of presence</text>
<text class="tt" x="26.8" y="25.4">Human population density</text>
<path d="M39.4 116.7V123.2M53.4 116.7V123.2M67.4 116.7V123.2M81.4 116.7V123.2M95.4 116.7V123.2M109.4 116.7V123.2M123 116.7V123.2" stroke="#111" stroke-width="1.1" fill="none"/>
<text class="tk" transform="translate(39,139.7) scale(1.05,1)" text-anchor="middle">0</text>
<text class="tk" transform="translate(67,139.7) scale(1.05,1)" text-anchor="middle">2000</text>
<text class="tk" transform="translate(109,139.7) scale(1.05,1)" text-anchor="middle">5000</text>
<text class="un" transform="translate(84,152.1) scale(0.95,1)" text-anchor="middle">persons/km²</text>
<rect x="39.4" y="114.3" width="16.6" height="2.4" fill="#111"/>
<rect x="59" y="114.3" width="8" height="2.4" fill="#111"/>
<path d="M73 114.5V116.7M75 114.5V116.7M79 114.5V116.7M97 114.5V116.7M104 114.5V116.7M130.4 114.5V116.7" stroke="#111" stroke-width="1" fill="none"/>
<polyline points="39.4,75.6 40.6,72.4 42.4,71 54,70.6 57,69.6 60,69.8 62,70.6 81,70.6 84,71.6 92,71.6 95,72.6 101,72.8 104,73.6 118,73.8 121,74.8 131,74.8" fill="none" stroke="#43389f" stroke-width="1.5" stroke-linejoin="round" stroke-linecap="round"/>
</g>
<g transform="translate(274,476.2)">
<rect x="35.3" y="33" width="98.45" height="83.7" fill="none" stroke="#111" stroke-width="1.25"/>
<path d="M29.1 113.6H35.3M29.1 98.1H35.3M29.1 82.6H35.3M29.1 67.1H35.3M29.1 51.6H35.3M29.1 36.1H35.3" stroke="#111" stroke-width="1.1" fill="none"/>
<text class="tk" transform="translate(20.8,113.9) rotate(-90) scale(1.05,1)" text-anchor="middle">0.0</text>
<text class="tk" transform="translate(20.8,82.9) rotate(-90) scale(1.05,1)" text-anchor="middle">0.4</text>
<text class="tk" transform="translate(20.8,51.9) rotate(-90) scale(1.05,1)" text-anchor="middle">0.8</text>
<text class="yl" transform="translate(10,79.2) rotate(-90) scale(0.945,1)" text-anchor="middle">Probability of presence</text>
<text class="tt" x="33.8" y="16">Mean air temperature during</text>
<text class="tt" x="33.8" y="26.6">the activity season</text>
<path d="M36.6 116.7V123.2M55.4 116.7V123.2M74 116.7V123.2M92.4 116.7V123.2M111 116.7V123.2M129.6 116.7V123.2" stroke="#111" stroke-width="1.1" fill="none"/>
<text class="tk" transform="translate(36.4,139.7) scale(1.05,1)" text-anchor="middle">10</text>
<text class="tk" transform="translate(73.4,139.7) scale(1.05,1)" text-anchor="middle">12</text>
<text class="tk" transform="translate(110.4,139.7) scale(1.05,1)" text-anchor="middle">14</text>
<text class="un" transform="translate(83,150.7) scale(0.95,1)" text-anchor="middle">°C</text>
<rect x="72" y="114.3" width="56" height="2.4" fill="#111"/>
<path d="M39.4 114.5V116.7M48 114.5V116.7M51 114.5V116.7M53 114.5V116.7M55 114.5V116.7M57 114.5V116.7M59 114.5V116.7M61 114.5V116.7M63 114.5V116.7M65 114.5V116.7M67 114.5V116.7M69 114.5V116.7M70.6 114.5V116.7M130.4 114.5V116.7" stroke="#111" stroke-width="1" fill="none"/>
<polyline points="39.4,80.4 42,81.2 49,81.4 53,82.2 58,82.6 62,83.4 66,84.2 77,84.2 80,83.4 90,83.2 94,81.6 98,80 101,77 104,71.6 107,67 110,61 113,57 116,54 119,51.6 123,49.6 127,49 131,49" fill="none" stroke="#43389f" stroke-width="1.3" stroke-linejoin="round" stroke-linecap="round"/>
</g>
<g transform="translate(411,476.2)">
<rect x="35.45" y="33" width="98.3" height="83.7" fill="none" stroke="#111" stroke-width="1.25"/>
<path d="M29.25 113.6H35.45M29.25 98.1H35.45M29.25 82.6H35.45M29.25 67.1H35.45M29.25 51.6H35.45M29.25 36.1H35.45" stroke="#111" stroke-width="1.1" fill="none"/>
<text class="tk" transform="translate(20.8,113.9) rotate(-90) scale(1.05,1)" text-anchor="middle">0.0</text>
<text class="tk" transform="translate(20.8,82.9) rotate(-90) scale(1.05,1)" text-anchor="middle">0.4</text>
<text class="tk" transform="translate(20.8,51.9) rotate(-90) scale(1.05,1)" text-anchor="middle">0.8</text>
<text class="yl" transform="translate(10,77.2) rotate(-90) scale(0.945,1)" text-anchor="middle">Probability of presence</text>
<text class="tt" x="40.4" y="16.4">Day land surface</text>
<text class="tt" x="40.4" y="27">temperature (DLST)</text>
<path d="M50 116.7V123.2M67 116.7V123.2M84 116.7V123.2M101 116.7V123.2M118 116.7V123.2" stroke="#111" stroke-width="1.1" fill="none"/>
<text class="tk" transform="translate(49.6,139.7) scale(1.05,1)" text-anchor="middle">2</text>
<text class="tk" transform="translate(66.4,139.7) scale(1.05,1)" text-anchor="middle">4</text>
<text class="tk" transform="translate(83.4,139.7) scale(1.05,1)" text-anchor="middle">6</text>
<text class="tk" transform="translate(100,139.7) scale(1.05,1)" text-anchor="middle">8</text>
<text class="un" transform="translate(81,150.7) scale(0.95,1)" text-anchor="middle">°C</text>
<rect x="49" y="114.3" width="77.4" height="2.4" fill="#111"/>
<path d="M39.4 114.5V116.7M41.4 114.5V116.7M43 114.5V116.7M45 114.5V116.7M128.4 114.5V116.7M130.4 114.5V116.7" stroke="#111" stroke-width="1" fill="none"/>
<polyline points="39.4,75 56,74.8 59,73.8 65,73.6 68,72.6 74,71.8 80,71 92,70.6 96,69.6 100,68.4 104,67.4 113,66.6 116,65.6 131,65.6" fill="none" stroke="#43389f" stroke-width="1.5" stroke-linejoin="round" stroke-linecap="round"/>
</g>
<g transform="translate(0,677.9)">
<rect x="36.2" y="33" width="97.55" height="83.7" fill="none" stroke="#111" stroke-width="1.25"/>
<path d="M30 113.6H36.2M30 98.1H36.2M30 82.6H36.2M30 67.1H36.2M30 51.6H36.2M30 36.1H36.2" stroke="#111" stroke-width="1.1" fill="none"/>
<text class="tk" transform="translate(20.8,113.9) rotate(-90) scale(1.05,1)" text-anchor="middle">0.0</text>
<text class="tk" transform="translate(20.8,82.9) rotate(-90) scale(1.05,1)" text-anchor="middle">0.4</text>
<text class="tk" transform="translate(20.8,51.9) rotate(-90) scale(1.05,1)" text-anchor="middle">0.8</text>
<text class="yl" transform="translate(10,75) rotate(-90) scale(0.945,1)" text-anchor="middle">Probability of presence</text>
<text class="tt" x="34.4" y="16">Mean relative humidity during</text>
<text class="tt" x="34.4" y="26.6">the activity season</text>
<path d="M46.4 116.7V123M73 116.7V123M100 116.7V123M125.6 116.7V123" stroke="#111" stroke-width="1.1" fill="none"/>
<text class="tk" transform="translate(45.6,139.9) scale(1.05,1)" text-anchor="middle">65</text>
<text class="tk" transform="translate(72.4,139.9) scale(1.05,1)" text-anchor="middle">70</text>
<text class="tk" transform="translate(99.4,139.9) scale(1.05,1)" text-anchor="middle">75</text>
<text class="tk" transform="translate(125.4,139.9) scale(1.05,1)" text-anchor="middle">80</text>
<text class="un" transform="translate(84.4,147.7) scale(0.95,1)" text-anchor="middle">%</text>
<rect x="46.4" y="113.2" width="73" height="3.5" fill="#111"/>
<path d="M39.4 113.4V116.7M42 113.4V116.7M44 113.4V116.7M121 113.4V116.7M126 113.4V116.7M129 113.4V116.7M131.4 113.4V116.7" stroke="#111" stroke-width="1" fill="none"/>
<polyline points="39.4,60.4 43,61.4 47,61.6 50,62.6 55,62.6 59,61.4 63,60.4 67,60.4 70,61.4 73,60.6 77,60.4 92,60.4 96,61.2 100,61.6 104,63 109,64.2 113,65.4 118,66 121,66.6 127,66.6 131,67.6" fill="none" stroke="#43389f" stroke-width="1.3" stroke-linejoin="round" stroke-linecap="round"/>
</g>
<g transform="translate(137,677.9)">
<rect x="36.35" y="33" width="97.4" height="83.7" fill="none" stroke="#111" stroke-width="1.25"/>
<path d="M30.15 113.6H36.35M30.15 98.1H36.35M30.15 82.6H36.35M30.15 67.1H36.35M30.15 51.6H36.35M30.15 36.1H36.35" stroke="#111" stroke-width="1.1" fill="none"/>
<text class="tk" transform="translate(20.8,113.9) rotate(-90) scale(1.05,1)" text-anchor="middle">0.0</text>
<text class="tk" transform="translate(20.8,82.9) rotate(-90) scale(1.05,1)" text-anchor="middle">0.4</text>
<text class="tk" transform="translate(20.8,51.9) rotate(-90) scale(1.05,1)" text-anchor="middle">0.8</text>
<text class="yl" transform="translate(10,78) rotate(-90) scale(0.945,1)" text-anchor="middle">Probability of presence</text>
<text class="tt" x="34.8" y="16">Mean precipitation during</text>
<text class="tt" x="34.8" y="26.6">the activity season</text>
<path d="M44.4 116.7V123M58 116.7V123M71.4 116.7V123M84.6 116.7V123M98 116.7V123M111.4 116.7V123M124.6 116.7V123" stroke="#111" stroke-width="1.1" fill="none"/>
<text class="tk" transform="translate(43.6,139.9) scale(1.05,1)" text-anchor="middle">30</text>
<text class="tk" transform="translate(70.6,139.9) scale(1.05,1)" text-anchor="middle">40</text>
<text class="tk" transform="translate(97.4,139.9) scale(1.05,1)" text-anchor="middle">50</text>
<text class="tk" transform="translate(124.4,139.9) scale(1.05,1)" text-anchor="middle">60</text>
<text class="un" transform="translate(90,148.3) scale(0.95,1)" text-anchor="middle">mm</text>
<rect x="40" y="113.2" width="11.6" height="3.5" fill="#111"/>
<rect x="53" y="113.2" width="61" height="3.5" fill="#111"/>
<path d="M115.6 113.4V116.7M122.4 113.4V116.7M131 113.4V116.7" stroke="#111" stroke-width="1" fill="none"/>
<polyline points="39.4,80.4 42,80.4 47,78.6 51,78 55,76 59,74.6 63,72.4 68,70.4 73,68 77,66 82,63.6 87,62 92,59 96,57 100,56.6 102,56 104,56.6 107,55.6 110,57.4 120,57.6 123,58.6 131,58.6" fill="none" stroke="#43389f" stroke-width="1.3" stroke-linejoin="round" stroke-linecap="round"/>
</g>
<g transform="translate(274,677.9)">
<rect x="35.3" y="33" width="98.45" height="83.7" fill="none" stroke="#111" stroke-width="1.25"/>
<path d="M29.1 113.6H35.3M29.1 98.1H35.3M29.1 82.6H35.3M29.1 67.1H35.3M29.1 51.6H35.3M29.1 36.1H35.3" stroke="#111" stroke-width="1.1" fill="none"/>
<text class="tk" transform="translate(20.8,113.9) rotate(-90) scale(1.05,1)" text-anchor="middle">0.0</text>
<text class="tk" transform="translate(20.8,82.9) rotate(-90) scale(1.05,1)" text-anchor="middle">0.4</text>
<text class="tk" transform="translate(20.8,51.9) rotate(-90) scale(1.05,1)" text-anchor="middle">0.8</text>
<text class="yl" transform="translate(10,78.4) rotate(-90) scale(0.945,1)" text-anchor="middle">Probability of presence</text>
<text class="tt" x="37.4" y="25.4">Distance to forest</text>
<path d="M40.6 116.7V123M57 116.7V123M73.4 116.7V123M89.6 116.7V123M105.6 116.7V123M121.6 116.7V123" stroke="#111" stroke-width="1.1" fill="none"/>
<text class="tk" transform="translate(40,139.9) scale(1.05,1)" text-anchor="middle">0</text>
<text class="tk" transform="translate(72.6,139.9) scale(1.05,1)" text-anchor="middle">1000</text>
<text class="tk" transform="translate(121.4,139.9) scale(1.05,1)" text-anchor="middle">2500</text>
<text class="un" transform="translate(89,147.5) scale(0.95,1)" text-anchor="middle">m</text>
<rect x="42" y="113.2" width="45" height="3.5" fill="#111"/>
<rect x="97" y="113.2" width="2" height="3.5" fill="#111"/>
<path d="M40 113.4V116.7M89 113.4V116.7M91 113.4V116.7M93 113.4V116.7M95 113.4V116.7M104 113.4V116.7M105.6 113.4V116.7M108 113.4V116.7M113.6 113.4V116.7M129 113.4V116.7M131 113.4V116.7" stroke="#111" stroke-width="1" fill="none"/>
<polyline points="39.4,60.6 59,60.6 61,59.4 85,59.4 87,58.4 101,58.4 104,59.6 131,59.6" fill="none" stroke="#43389f" stroke-width="1.5" stroke-linejoin="round" stroke-linecap="round"/>
</g>
<g transform="translate(411,677.9)">
<rect x="35.45" y="33" width="98.3" height="83.7" fill="none" stroke="#111" stroke-width="1.25"/>
<path d="M29.25 113.6H35.45M29.25 98.1H35.45M29.25 82.6H35.45M29.25 67.1H35.45M29.25 51.6H35.45M29.25 36.1H35.45" stroke="#111" stroke-width="1.1" fill="none"/>
<text class="tk" transform="translate(20.8,113.9) rotate(-90) scale(1.05,1)" text-anchor="middle">0.0</text>
<text class="tk" transform="translate(20.8,82.9) rotate(-90) scale(1.05,1)" text-anchor="middle">0.4</text>
<text class="tk" transform="translate(20.8,51.9) rotate(-90) scale(1.05,1)" text-anchor="middle">0.8</text>
<text class="yl" transform="translate(10,78.4) rotate(-90) scale(0.945,1)" text-anchor="middle">Probability of presence</text>
<text class="tt" x="32.4" y="26">Distance to meadows</text>
<path d="M40.6 116.7V123M65.4 116.7V123M90.4 116.7V123M115.4 116.7V123" stroke="#111" stroke-width="1.1" fill="none"/>
<text class="tk" transform="translate(40,139.9) scale(1.05,1)" text-anchor="middle">0</text>
<text class="tk" transform="translate(64.4,139.9) scale(1.05,1)" text-anchor="middle">2000</text>
<text class="tk" transform="translate(115,139.9) scale(1.05,1)" text-anchor="middle">6000</text>
<text class="un" transform="translate(81.6,147.1) scale(0.95,1)" text-anchor="middle">m</text>
<rect x="40.6" y="113.2" width="51.4" height="3.5" fill="#111"/>
<rect x="93.6" y="113.2" width="5.4" height="3.5" fill="#111"/>
<rect x="101" y="113.2" width="3.4" height="3.5" fill="#111"/>
<path d="M107 113.4V116.7M110 113.4V116.7M112.6 113.4V116.7M115.6 113.4V116.7M117.6 113.4V116.7M131.4 113.4V116.7" stroke="#111" stroke-width="1" fill="none"/>
<polyline points="40,61.6 55,61.6 57,60.6 70,60.6 72,59.6 106,59.6 108,60.6 131,60.6" fill="none" stroke="#43389f" stroke-width="1.5" stroke-linejoin="round" stroke-linecap="round"/>
</g>
<g transform="translate(548,677.9)">
<rect x="35.65" y="33" width="98.1" height="83.7" fill="none" stroke="#111" stroke-width="1.25"/>
<path d="M29.45 113.6H35.65M29.45 98.1H35.65M29.45 82.6H35.65M29.45 67.1H35.65M29.45 51.6H35.65M29.45 36.1H35.65" stroke="#111" stroke-width="1.1" fill="none"/>
<text class="tk" transform="translate(20.8,113.9) rotate(-90) scale(1.05,1)" text-anchor="middle">0.0</text>
<text class="tk" transform="translate(20.8,82.9) rotate(-90) scale(1.05,1)" text-anchor="middle">0.4</text>
<text class="tk" transform="translate(20.8,51.9) rotate(-90) scale(1.05,1)" text-anchor="middle">0.8</text>
<text class="yl" transform="translate(10.5,77.2) rotate(-90) scale(0.945,1)" text-anchor="middle">Probability of presence</text>
<text class="tt" x="37.8" y="25.4">Distance to water</text>
<path d="M40.6 116.7V123M65.4 116.7V123M90.4 116.7V123M115.4 116.7V123" stroke="#111" stroke-width="1.1" fill="none"/>
<text class="tk" transform="translate(40,139.9) scale(1.05,1)" text-anchor="middle">0</text>
<text class="tk" transform="translate(65,139.9) scale(1.05,1)" text-anchor="middle">1000</text>
<text class="tk" transform="translate(115.4,139.9) scale(1.05,1)" text-anchor="middle">3000</text>
<text class="un" transform="translate(82,148.1) scale(0.95,1)" text-anchor="middle">m</text>
<rect x="42.6" y="113.2" width="9" height="3.5" fill="#111"/>
<rect x="53" y="113.2" width="40" height="3.5" fill="#111"/>
<path d="M40.6 113.4V116.7M95 113.4V116.7M97 113.4V116.7M99.4 113.4V116.7M105 113.4V116.7M108 113.4V116.7M109.6 113.4V116.7M114 113.4V116.7M128.6 113.4V116.7M130.4 113.4V116.7" stroke="#111" stroke-width="1" fill="none"/>
<polyline points="40,61.6 51,61.6 53,60.6 72,60.6 74,59.6 131,59.6" fill="none" stroke="#43389f" stroke-width="1.5" stroke-linejoin="round" stroke-linecap="round"/>
</g>
<g transform="translate(0,829.8)">
<rect x="36.2" y="33" width="97.55" height="83.7" fill="none" stroke="#111" stroke-width="1.25"/>
<path d="M30 113.6H36.2M30 98.1H36.2M30 82.6H36.2M30 67.1H36.2M30 51.6H36.2M30 36.1H36.2" stroke="#111" stroke-width="1.1" fill="none"/>
<text class="tk" transform="translate(20.8,113.9) rotate(-90) scale(1.05,1)" text-anchor="middle">0.0</text>
<text class="tk" transform="translate(20.8,82.9) rotate(-90) scale(1.05,1)" text-anchor="middle">0.4</text>
<text class="tk" transform="translate(20.8,51.9) rotate(-90) scale(1.05,1)" text-anchor="middle">0.8</text>
<text class="yl" transform="translate(10,76.8) rotate(-90) scale(0.945,1)" text-anchor="middle">Probability of presence</text>
<text class="tt" x="35.8" y="18">Enhanced vegetation</text>
<text class="tt" x="35.8" y="29.2">index (EVI)</text>
<path d="M46.4 116.7V123.9M62.6 116.7V123.9M79 116.7V123.9M95 116.7V123.9M111.4 116.7V123.9M127.6 116.7V123.9" stroke="#111" stroke-width="1.1" fill="none"/>
<text class="tk" transform="translate(45,139) scale(1.05,1)" text-anchor="middle">0.05</text>
<text class="tk" transform="translate(78,139) scale(1.05,1)" text-anchor="middle">0.15</text>
<text class="tk" transform="translate(110.4,139) scale(1.05,1)" text-anchor="middle">0.25</text>
<rect x="45" y="114.3" width="20" height="2.4" fill="#111"/>
<rect x="68" y="114.3" width="63" height="2.4" fill="#111"/>
<path d="M39.4 114.5V116.7" stroke="#111" stroke-width="1" fill="none"/>
<polyline points="39.4,62.4 43,62.2 46,61 51,60.8 53,59.8 59,59.8 61,61 76,61 79,60 81,61 91,60.8 93,59.8 96,60 98,61 113,60.8 116,59.8 128,59.8 131,58.8" fill="none" stroke="#43389f" stroke-width="1.5" stroke-linejoin="round" stroke-linecap="round"/>
</g>
<g transform="translate(137,829.8)">
<rect x="36.35" y="33" width="97.4" height="83.7" fill="none" stroke="#111" stroke-width="1.25"/>
<path d="M30.15 113.6H36.35M30.15 98.1H36.35M30.15 82.6H36.35M30.15 67.1H36.35M30.15 51.6H36.35M30.15 36.1H36.35" stroke="#111" stroke-width="1.1" fill="none"/>
<text class="tk" transform="translate(20.8,113.9) rotate(-90) scale(1.05,1)" text-anchor="middle">0.0</text>
<text class="tk" transform="translate(20.8,82.9) rotate(-90) scale(1.05,1)" text-anchor="middle">0.4</text>
<text class="tk" transform="translate(20.8,51.9) rotate(-90) scale(1.05,1)" text-anchor="middle">0.8</text>
<text class="yl" transform="translate(10,77.2) rotate(-90) scale(0.945,1)" text-anchor="middle">Probability of presence</text>
<text class="tt" x="44.4" y="27">Mid infrared (MIR)</text>
<path d="M51.6 116.7V123.9M68 116.7V123.9M84.6 116.7V123.9M101 116.7V123.9M117.4 116.7V123.9M133 116.7V123.9" stroke="#111" stroke-width="1.1" fill="none"/>
<text class="tk" transform="translate(50.4,139) scale(1.05,1)" text-anchor="middle">0.15</text>
<text class="tk" transform="translate(83.4,139) scale(1.05,1)" text-anchor="middle">0.25</text>
<text class="tk" transform="translate(116.4,139) scale(1.05,1)" text-anchor="middle">0.35</text>
<rect x="56" y="114.3" width="4" height="2.4" fill="#111"/>
<rect x="62" y="114.3" width="63" height="2.4" fill="#111"/>
<path d="M39.4 114.5V116.7M51 114.5V116.7M53 114.5V116.7M127 114.5V116.7M129 114.5V116.7M131 114.5V116.7" stroke="#111" stroke-width="1" fill="none"/>
<polyline points="39.4,57.2 61,57.2 63,58.2 70,58.2 73,59.2 76,60 83,60.2 86,61.2 109,61.2 112,60.2 116,59.2 120,59 123,58 128,58 131,59.4" fill="none" stroke="#43389f" stroke-width="1.5" stroke-linejoin="round" stroke-linecap="round"/>
</g>
<g transform="translate(274,829.8)">
<rect x="35.3" y="33" width="98.45" height="83.7" fill="none" stroke="#111" stroke-width="1.25"/>
<path d="M29.1 113.6H35.3M29.1 98.1H35.3M29.1 82.6H35.3M29.1 67.1H35.3M29.1 51.6H35.3M29.1 36.1H35.3" stroke="#111" stroke-width="1.1" fill="none"/>
<text class="tk" transform="translate(20.8,113.9) rotate(-90) scale(1.05,1)" text-anchor="middle">0.0</text>
<text class="tk" transform="translate(20.8,82.9) rotate(-90) scale(1.05,1)" text-anchor="middle">0.4</text>
<text class="tk" transform="translate(20.8,51.9) rotate(-90) scale(1.05,1)" text-anchor="middle">0.8</text>
<text class="yl" transform="translate(10,76.4) rotate(-90) scale(0.945,1)" text-anchor="middle">Probability of presence</text>
<text class="tt" x="35.8" y="25.6">Precipitation sum</text>
<path d="M37.4 116.7V123.9M51.4 116.7V123.9M65 116.7V123.9M78.4 116.7V123.9M92 116.7V123.9M105.4 116.7V123.9M118.6 116.7V123.9M132 116.7V123.9" stroke="#111" stroke-width="1.1" fill="none"/>
<text class="tk" transform="translate(36.6,139) scale(1.05,1)" text-anchor="middle">240</text>
<text class="tk" transform="translate(64,139) scale(1.05,1)" text-anchor="middle">280</text>
<text class="tk" transform="translate(91,139) scale(1.05,1)" text-anchor="middle">320</text>
<text class="tk" transform="translate(118,139) scale(1.05,1)" text-anchor="middle">360</text>
<text class="un" transform="translate(80,150.1) scale(0.95,1)" text-anchor="middle">mm</text>
<rect x="49.6" y="114.3" width="81.4" height="2.4" fill="#111"/>
<path d="M39.4 114.5V116.7M42 114.5V116.7M44.4 114.5V116.7M47 114.5V116.7" stroke="#111" stroke-width="1" fill="none"/>
<polyline points="39.4,48.2 45,48.2 47,49.2 50,48.2 55,48.2 57,49.2 74,49.2 77,50.4 82,51.4 85,53 89,54 91,56 93,59.4 96,62 100,64.6 104,67 108,70 112,69.2 115,70.2 120,70.6 123,71.4 128,71.6 131,73" fill="none" stroke="#43389f" stroke-width="1.5" stroke-linejoin="round" stroke-linecap="round"/>
</g>
<g transform="translate(411,829.8)">
<rect x="35.45" y="33" width="98.3" height="83.7" fill="none" stroke="#111" stroke-width="1.25"/>
<path d="M29.25 113.6H35.45M29.25 98.1H35.45M29.25 82.6H35.45M29.25 67.1H35.45M29.25 51.6H35.45M29.25 36.1H35.45" stroke="#111" stroke-width="1.1" fill="none"/>
<text class="tk" transform="translate(20.8,113.9) rotate(-90) scale(1.05,1)" text-anchor="middle">0.0</text>
<text class="tk" transform="translate(20.8,82.9) rotate(-90) scale(1.05,1)" text-anchor="middle">0.4</text>
<text class="tk" transform="translate(20.8,51.9) rotate(-90) scale(1.05,1)" text-anchor="middle">0.8</text>
<text class="yl" transform="translate(10,76.2) rotate(-90) scale(0.945,1)" text-anchor="middle">Probability of presence</text>
<text class="tt" x="39.4" y="16.4">Mean snow depth</text>
<text class="tt" x="39.4" y="27">in January–April</text>
<path d="M49 116.7V123.9M62 116.7V123.9M75 116.7V123.9M88 116.7V123.9M100.6 116.7V123.9M113.4 116.7V123.9M126.4 116.7V123.9" stroke="#111" stroke-width="1.1" fill="none"/>
<text class="tk" transform="translate(48.6,139) scale(1.05,1)" text-anchor="middle">10</text>
<text class="tk" transform="translate(74,139) scale(1.05,1)" text-anchor="middle">30</text>
<text class="tk" transform="translate(100,139) scale(1.05,1)" text-anchor="middle">50</text>
<text class="tk" transform="translate(126,139) scale(1.05,1)" text-anchor="middle">70</text>
<text class="un" transform="translate(85.6,149.7) scale(0.95,1)" text-anchor="middle">cm</text>
<rect x="40" y="114.3" width="49" height="2.4" fill="#111"/>
<rect x="101" y="114.3" width="8" height="2.4" fill="#111"/>
<rect x="119" y="114.3" width="4" height="2.4" fill="#111"/>
<path d="M91 114.5V116.7M93 114.5V116.7M95 114.5V116.7M98 114.5V116.7M111 114.5V116.7M113 114.5V116.7M115 114.5V116.7M125 114.5V116.7M127.4 114.5V116.7M130 114.5V116.7" stroke="#111" stroke-width="1" fill="none"/>
<polyline points="40,55 45,55 50,56.6 56,58.2 62,59.6 67,60.8 80,60.8 84,62.4 90,64 96,65.2 102,66.6 106,68 110,68.6 114,69.2 118,68.2 131,68" fill="none" stroke="#43389f" stroke-width="1.5" stroke-linejoin="round" stroke-linecap="round"/>
</g>
<g transform="translate(548,829.8)">
<rect x="35.65" y="33" width="98.1" height="83.7" fill="none" stroke="#111" stroke-width="1.25"/>
<path d="M29.45 113.6H35.65M29.45 98.1H35.65M29.45 82.6H35.65M29.45 67.1H35.65M29.45 51.6H35.65M29.45 36.1H35.65" stroke="#111" stroke-width="1.1" fill="none"/>
<text class="tk" transform="translate(20.8,113.9) rotate(-90) scale(1.05,1)" text-anchor="middle">0.0</text>
<text class="tk" transform="translate(20.8,82.9) rotate(-90) scale(1.05,1)" text-anchor="middle">0.4</text>
<text class="tk" transform="translate(20.8,51.9) rotate(-90) scale(1.05,1)" text-anchor="middle">0.8</text>
<text class="yl" transform="translate(10,77.2) rotate(-90) scale(0.945,1)" text-anchor="middle">Probability of presence</text>
<text class="tt" x="56.4" y="26">Elevation</text>
<path d="M40.6 116.7V123.9M53.4 116.7V123.9M66.6 116.7V123.9M80 116.7V123.9M93 116.7V123.9M106.4 116.7V123.9M119.6 116.7V123.9M132.6 116.7V123.9" stroke="#111" stroke-width="1.1" fill="none"/>
<text class="tk" transform="translate(40,139) scale(1.05,1)" text-anchor="middle">0</text>
<text class="tk" transform="translate(66,139) scale(1.05,1)" text-anchor="middle">100</text>
<text class="tk" transform="translate(105.6,139) scale(1.05,1)" text-anchor="middle">250</text>
<text class="un" transform="translate(84,147.1) scale(0.95,1)" text-anchor="middle">m</text>
<rect x="40.6" y="114.3" width="61.4" height="2.4" fill="#111"/>
<path d="M106 114.5V116.7M111 114.5V116.7M113 114.5V116.7M119.4 114.5V116.7M129.6 114.5V116.7" stroke="#111" stroke-width="1" fill="none"/>
<polyline points="40.6,55 43,56 47,56.6 50,58.2 56,59.2 62,60.8 68,62.8 79,62.8 82,64 85,66 88,68.8 93,70.6 98,72.4 103,73.6 108,74.8 113,75 118,76 123,76.8 130.4,76.8" fill="none" stroke="#43389f" stroke-width="1.5" stroke-linejoin="round" stroke-linecap="round"/>
</g>
<g transform="translate(0,981.9)">
<rect x="36.2" y="33" width="97.55" height="83.7" fill="none" stroke="#111" stroke-width="1.25"/>
<path d="M30 113.6H36.2M30 98.1H36.2M30 82.6H36.2M30 67.1H36.2M30 51.6H36.2M30 36.1H36.2" stroke="#111" stroke-width="1.1" fill="none"/>
<text class="tk" transform="translate(20.8,113.9) rotate(-90) scale(1.05,1)" text-anchor="middle">0.0</text>
<text class="tk" transform="translate(20.8,82.9) rotate(-90) scale(1.05,1)" text-anchor="middle">0.4</text>
<text class="tk" transform="translate(20.8,51.9) rotate(-90) scale(1.05,1)" text-anchor="middle">0.8</text>
<text class="yl" transform="translate(10,78) rotate(-90) scale(0.945,1)" text-anchor="middle">Probability of presence</text>
<text class="tt" x="30.4" y="26">White-tailed deer density</text>
<path d="M40 116.7V123M53 116.7V123M65.6 116.7V123M78.4 116.7V123M91.4 116.7V123M104 116.7V123M117 116.7V123M129.6 116.7V123" stroke="#111" stroke-width="1.1" fill="none"/>
<text class="tk" transform="translate(39.6,139.9) scale(1.05,1)" text-anchor="middle">0</text>
<text class="tk" transform="translate(65,139.9) scale(1.05,1)" text-anchor="middle">20</text>
<text class="tk" transform="translate(90.6,139.9) scale(1.05,1)" text-anchor="middle">40</text>
<text class="tk" transform="translate(116,139.9) scale(1.05,1)" text-anchor="middle">60</text>
<text class="un" transform="translate(84.6,152.1) scale(0.95,1)" text-anchor="middle">deer/km²</text>
<rect x="40" y="113.3" width="67" height="3.4" fill="#111"/>
<rect x="109" y="113.3" width="7" height="3.4" fill="#111"/>
<rect x="118.4" y="113.3" width="7.2" height="3.4" fill="#111"/>
<path d="M128 113.5V116.7M130.4 113.5V116.7" stroke="#111" stroke-width="1" fill="none"/>
<polyline points="39.6,74.4 41,69 42.6,63.6 45,61 48,59.6 51,58.4 62,58.4 65,57.4 69,57.2 72,56.4 75,57.4 81,57.6 85,58.8 89,60.4 93,61 97,62 101,62.6 105,64 109,65.6 113,67.2 118,67.4 121,68.4 131,68.4" fill="none" stroke="#43389f" stroke-width="1.3" stroke-linejoin="round" stroke-linecap="round"/>
</g>
<g transform="translate(137,981.9)">
<rect x="36.35" y="33" width="97.4" height="83.7" fill="none" stroke="#111" stroke-width="1.25"/>
<path d="M30.15 113.6H36.35M30.15 98.1H36.35M30.15 82.6H36.35M30.15 67.1H36.35M30.15 51.6H36.35M30.15 36.1H36.35" stroke="#111" stroke-width="1.1" fill="none"/>
<text class="tk" transform="translate(20.8,113.9) rotate(-90) scale(1.05,1)" text-anchor="middle">0.0</text>
<text class="tk" transform="translate(20.8,82.9) rotate(-90) scale(1.05,1)" text-anchor="middle">0.4</text>
<text class="tk" transform="translate(20.8,51.9) rotate(-90) scale(1.05,1)" text-anchor="middle">0.8</text>
<text class="yl" transform="translate(10.5,78) rotate(-90) scale(0.945,1)" text-anchor="middle">Probability of presence</text>
<text class="tt" x="46.4" y="26.4">Roe deer density</text>
<path d="M40 116.7V123M53.6 116.7V123M67.6 116.7V123M81.4 116.7V123M95 116.7V123M109 116.7V123M122.6 116.7V123" stroke="#111" stroke-width="1.1" fill="none"/>
<text class="tk" transform="translate(39.6,139.9) scale(1.05,1)" text-anchor="middle">0</text>
<text class="tk" transform="translate(67.4,139.9) scale(1.05,1)" text-anchor="middle">20</text>
<text class="tk" transform="translate(94.4,139.9) scale(1.05,1)" text-anchor="middle">40</text>
<text class="tk" transform="translate(122,139.9) scale(1.05,1)" text-anchor="middle">60</text>
<text class="un" transform="translate(85.6,152.1) scale(0.95,1)" text-anchor="middle">deer/km²</text>
<rect x="40" y="113.3" width="26.4" height="3.4" fill="#111"/>
<rect x="68" y="113.3" width="7.6" height="3.4" fill="#111"/>
<rect x="79" y="113.3" width="9" height="3.4" fill="#111"/>
<rect x="94" y="113.3" width="5" height="3.4" fill="#111"/>
<rect x="102" y="113.3" width="6" height="3.4" fill="#111"/>
<rect x="115.6" y="113.3" width="8" height="3.4" fill="#111"/>
<path d="M90 113.5V116.7M92 113.5V116.7M112 113.5V116.7M114 113.5V116.7M126 113.5V116.7M128 113.5V116.7M130.4 113.5V116.7" stroke="#111" stroke-width="1" fill="none"/>
<polyline points="39.6,67.4 41,63.6 43,60.6 45,58.4 47.6,56.6 50,59 54,59.4 56,58.4 61,58.4 63,57.6 104,57.6 106,58.6 129,58.6 131,59.6" fill="none" stroke="#43389f" stroke-width="1.5" stroke-linejoin="round" stroke-linecap="round"/>
</g>
<g transform="translate(274,981.9)">
<rect x="35.3" y="33" width="98.45" height="83.7" fill="none" stroke="#111" stroke-width="1.25"/>
<path d="M29.1 113.6H35.3M29.1 98.1H35.3M29.1 82.6H35.3M29.1 67.1H35.3M29.1 51.6H35.3M29.1 36.1H35.3" stroke="#111" stroke-width="1.1" fill="none"/>
<text class="tk" transform="translate(20.8,113.9) rotate(-90) scale(1.05,1)" text-anchor="middle">0.0</text>
<text class="tk" transform="translate(20.8,82.9) rotate(-90) scale(1.05,1)" text-anchor="middle">0.4</text>
<text class="tk" transform="translate(20.8,51.9) rotate(-90) scale(1.05,1)" text-anchor="middle">0.8</text>
<text class="yl" transform="translate(10,78) rotate(-90) scale(0.945,1)" text-anchor="middle">Probability of presence</text>
<text class="tt" x="36" y="26">Mountain hare density</text>
<path d="M55.6 116.7V123M78.6 116.7V123M102 116.7V123M125.6 116.7V123" stroke="#111" stroke-width="1.1" fill="none"/>
<text class="tk" transform="translate(55,139.9) scale(1.05,1)" text-anchor="middle">10</text>
<text class="tk" transform="translate(78,139.9) scale(1.05,1)" text-anchor="middle">20</text>
<text class="tk" transform="translate(101.6,139.9) scale(1.05,1)" text-anchor="middle">30</text>
<text class="tk" transform="translate(125.4,139.9) scale(1.05,1)" text-anchor="middle">40</text>
<text class="un" transform="translate(85,151.1) scale(0.95,1)" text-anchor="middle">hare/km²</text>
<rect x="40" y="113.3" width="75" height="3.4" fill="#111"/>
<rect x="116.6" y="113.3" width="6" height="3.4" fill="#111"/>
<path d="M125 113.5V116.7M129 113.5V116.7M131 113.5V116.7" stroke="#111" stroke-width="1" fill="none"/>
<polyline points="40,89.4 43,87.6 46,83 48.4,79 50,74 52.4,69.6 55,67 60,65 65,63 70,61.6 75,60.4 79,59.6 82,59.4 86,58 91,56.6 96,54.6 100,53 103,52.4 109,52.4 112,51.6 131,51.6" fill="none" stroke="#43389f" stroke-width="1.3" stroke-linejoin="round" stroke-linecap="round"/>
</g>
<g transform="translate(411,981.9)">
<rect x="35.45" y="33" width="98.3" height="83.7" fill="none" stroke="#111" stroke-width="1.25"/>
<path d="M29.25 113.6H35.45M29.25 98.1H35.45M29.25 82.6H35.45M29.25 67.1H35.45M29.25 51.6H35.45M29.25 36.1H35.45" stroke="#111" stroke-width="1.1" fill="none"/>
<text class="tk" transform="translate(20.8,113.9) rotate(-90) scale(1.05,1)" text-anchor="middle">0.0</text>
<text class="tk" transform="translate(20.8,82.9) rotate(-90) scale(1.05,1)" text-anchor="middle">0.4</text>
<text class="tk" transform="translate(20.8,51.9) rotate(-90) scale(1.05,1)" text-anchor="middle">0.8</text>
<text class="yl" transform="translate(10.5,76.2) rotate(-90) scale(0.945,1)" text-anchor="middle">Probability of presence</text>
<text class="tt" x="35" y="26.4">European hare density</text>
<path d="M40.6 116.7V123M57 116.7V123M73.6 116.7V123M90 116.7V123M106.6 116.7V123M123 116.7V123" stroke="#111" stroke-width="1.1" fill="none"/>
<text class="tk" transform="translate(40,139.9) scale(1.05,1)" text-anchor="middle">0</text>
<text class="tk" transform="translate(73,139.9) scale(1.05,1)" text-anchor="middle">20</text>
<text class="tk" transform="translate(105.6,139.9) scale(1.05,1)" text-anchor="middle">40</text>
<text class="un" transform="translate(85,150.7) scale(0.95,1)" text-anchor="middle">hare/km²</text>
<rect x="40.6" y="113.3" width="81.4" height="3.4" fill="#111"/>
<path d="M124.4 113.5V116.7M131 113.5V116.7" stroke="#111" stroke-width="1" fill="none"/>
<polyline points="40,59.4 42,61 44.4,60.4 47.6,60.6 50,64.6 52.4,65.6 56,65.6 59,67.4 61,68.6 63,73 65,76 68,78 73,79.4 79,81.2 85,83 91,83.6 95,84.4 98,85.4 102,85.4 105,84 109,81.6 112,80 114,79 116,74.4 119,72.4 123,70.4 131,70.4" fill="none" stroke="#43389f" stroke-width="1.3" stroke-linejoin="round" stroke-linecap="round"/>
</g>
<g transform="translate(548,981.9)">
<rect x="35.65" y="33" width="98.1" height="83.7" fill="none" stroke="#111" stroke-width="1.25"/>
<path d="M29.45 113.6H35.65M29.45 98.1H35.65M29.45 82.6H35.65M29.45 67.1H35.65M29.45 51.6H35.65M29.45 36.1H35.65" stroke="#111" stroke-width="1.1" fill="none"/>
<text class="tk" transform="translate(20.8,113.9) rotate(-90) scale(1.05,1)" text-anchor="middle">0.0</text>
<text class="tk" transform="translate(20.8,82.9) rotate(-90) scale(1.05,1)" text-anchor="middle">0.4</text>
<text class="tk" transform="translate(20.8,51.9) rotate(-90) scale(1.05,1)" text-anchor="middle">0.8</text>
<text class="yl" transform="translate(10,79.2) rotate(-90) scale(0.945,1)" text-anchor="middle">Probability of presence</text>
<text class="tt" x="49.4" y="26.6">Red fox density</text>
<path d="M38.6 116.7V123M56 116.7V123M74.6 116.7V123M93 116.7V123M111.6 116.7V123M130.4 116.7V123" stroke="#111" stroke-width="1.1" fill="none"/>
<text class="tk" transform="translate(38,139.9) scale(1.05,1)" text-anchor="middle">0</text>
<text class="tk" transform="translate(55.6,139.9) scale(1.05,1)" text-anchor="middle">5</text>
<text class="tk" transform="translate(74,139.9) scale(1.05,1)" text-anchor="middle">10</text>
<text class="tk" transform="translate(111,139.9) scale(1.05,1)" text-anchor="middle">20</text>
<text class="un" transform="translate(86.4,150.7) scale(0.95,1)" text-anchor="middle">foxes/km²</text>
<rect x="40.6" y="113.3" width="58.4" height="3.4" fill="#111"/>
<rect x="114.4" y="113.3" width="3.6" height="3.4" fill="#111"/>
<rect x="123" y="113.3" width="8" height="3.4" fill="#111"/>
<path d="M101 113.5V116.7M103 113.5V116.7M105 113.5V116.7M107 113.5V116.7M109.6 113.5V116.7M119.6 113.5V116.7M121.6 113.5V116.7" stroke="#111" stroke-width="1" fill="none"/>
<polyline points="40.6,52.4 43,54 45,55.4 48,55.6 50,58.4 54,60.4 57,62 60,65 63,67 65,70 67,73 71,76.6 75,80 79,82.6 83,85.4 87,87.4 90.4,88 93,87 100,87 103,86.2 111,86 114,85.2 124,85 128,84 131,84" fill="none" stroke="#43389f" stroke-width="1.3" stroke-linejoin="round" stroke-linecap="round"/>
</g>
<g transform="translate(0,1133.8)">
<rect x="36.2" y="33" width="97.55" height="83.7" fill="none" stroke="#111" stroke-width="1.25"/>
<path d="M30 113.6H36.2M30 98.1H36.2M30 82.6H36.2M30 67.1H36.2M30 51.6H36.2M30 36.1H36.2" stroke="#111" stroke-width="1.1" fill="none"/>
<text class="tk" transform="translate(20.8,113.9) rotate(-90) scale(1.05,1)" text-anchor="middle">0.0</text>
<text class="tk" transform="translate(20.8,82.9) rotate(-90) scale(1.05,1)" text-anchor="middle">0.4</text>
<text class="tk" transform="translate(20.8,51.9) rotate(-90) scale(1.05,1)" text-anchor="middle">0.8</text>
<text class="yl" transform="translate(10,77.2) rotate(-90) scale(0.945,1)" text-anchor="middle">Probability of presence</text>
<text class="tt" x="51.8" y="26.4">Moose density</text>
<path d="M45 116.7V123.2M61.4 116.7V123.2M77 116.7V123.2M93 116.7V123.2M109 116.7V123.2M125.4 116.7V123.2" stroke="#111" stroke-width="1.1" fill="none"/>
<text class="tk" transform="translate(44.4,139.7) scale(1.05,1)" text-anchor="middle">2</text>
<text class="tk" transform="translate(61,139.7) scale(1.05,1)" text-anchor="middle">4</text>
<text class="tk" transform="translate(76,139.7) scale(1.05,1)" text-anchor="middle">6</text>
<text class="tk" transform="translate(92.6,139.7) scale(1.05,1)" text-anchor="middle">8</text>
<text class="tk" transform="translate(125.6,139.7) scale(1.05,1)" text-anchor="middle">12</text>
<text class="un" transform="translate(85,152.1) scale(0.95,1)" text-anchor="middle">moose/km²</text>
<rect x="44.4" y="114.3" width="48.6" height="2.4" fill="#111"/>
<rect x="97" y="114.3" width="7" height="2.4" fill="#111"/>
<rect x="109.6" y="114.3" width="3.4" height="2.4" fill="#111"/>
<rect x="116" y="114.3" width="11" height="2.4" fill="#111"/>
<path d="M39.4 114.5V116.7M41 114.5V116.7M42.6 114.5V116.7M95 114.5V116.7M106 114.5V116.7M108 114.5V116.7M130 114.5V116.7" stroke="#111" stroke-width="1" fill="none"/>
<polyline points="39.6,58.4 42.4,56.4 45.6,54.8 49,55.6 53,56.4 58,58 63,59.4 67,61 71,62.4 76,64.6 80,67.4 85,69.4 90,71 96,72.6 102,74 108,75.2 114,76.2 120,77.4 126,78 131,79.2" fill="none" stroke="#43389f" stroke-width="1.5" stroke-linejoin="round" stroke-linecap="round"/>
</g>
<g transform="translate(137,1133.8)">
<rect x="36.35" y="33" width="97.4" height="83.7" fill="none" stroke="#111" stroke-width="1.25"/>
<path d="M30.15 113.6H36.35M30.15 98.1H36.35M30.15 82.6H36.35M30.15 67.1H36.35M30.15 51.6H36.35M30.15 36.1H36.35" stroke="#111" stroke-width="1.1" fill="none"/>
<text class="tk" transform="translate(20.8,113.9) rotate(-90) scale(1.05,1)" text-anchor="middle">0.0</text>
<text class="tk" transform="translate(20.8,82.9) rotate(-90) scale(1.05,1)" text-anchor="middle">0.4</text>
<text class="tk" transform="translate(20.8,51.9) rotate(-90) scale(1.05,1)" text-anchor="middle">0.8</text>
<text class="yl" transform="translate(10,78.4) rotate(-90) scale(0.945,1)" text-anchor="middle">Probability of presence</text>
<text class="tt" x="22.4" y="27.2">Human population density</text>
<path d="M40 116.7V123.2M55.6 116.7V123.2M71 116.7V123.2M86.6 116.7V123.2M102 116.7V123.2M117.6 116.7V123.2M132.6 116.7V123.2" stroke="#111" stroke-width="1.1" fill="none"/>
<text class="tk" transform="translate(39.6,139.7) scale(1.05,1)" text-anchor="middle">0</text>
<text class="tk" transform="translate(70.4,139.7) scale(1.05,1)" text-anchor="middle">4000</text>
<text class="tk" transform="translate(117,139.7) scale(1.05,1)" text-anchor="middle">10000</text>
<text class="un" transform="translate(84.4,152.1) scale(0.95,1)" text-anchor="middle">persons/km²</text>
<rect x="40" y="114.3" width="16.4" height="2.4" fill="#111"/>
<rect x="58" y="114.3" width="4" height="2.4" fill="#111"/>
<rect x="68" y="114.3" width="2.4" height="2.4" fill="#111"/>
<path d="M63.6 114.5V116.7M65.6 114.5V116.7M72 114.5V116.7M73.6 114.5V116.7M75.6 114.5V116.7M90 114.5V116.7M131 114.5V116.7" stroke="#111" stroke-width="1" fill="none"/>
<polyline points="39.6,59.6 41.6,61.2 44,59.8 54,59.8 57,60.8 62,61 65,62 77,62 80,63 91,63.2 94,64 103,64.2 106,65.2 114,65.2 117,66 128,66.2 131,67.6" fill="none" stroke="#43389f" stroke-width="1.5" stroke-linejoin="round" stroke-linecap="round"/>
</g>
<g transform="translate(274,1133.8)">
<rect x="35.3" y="33" width="98.45" height="83.7" fill="none" stroke="#111" stroke-width="1.25"/>
<path d="M29.1 113.6H35.3M29.1 98.1H35.3M29.1 82.6H35.3M29.1 67.1H35.3M29.1 51.6H35.3M29.1 36.1H35.3" stroke="#111" stroke-width="1.1" fill="none"/>
<text class="tk" transform="translate(20.8,113.9) rotate(-90) scale(1.05,1)" text-anchor="middle">0.0</text>
<text class="tk" transform="translate(20.8,82.9) rotate(-90) scale(1.05,1)" text-anchor="middle">0.4</text>
<text class="tk" transform="translate(20.8,51.9) rotate(-90) scale(1.05,1)" text-anchor="middle">0.8</text>
<text class="yl" transform="translate(10,77) rotate(-90) scale(0.945,1)" text-anchor="middle">Probability of presence</text>
<text class="tt" x="34.8" y="14.4">Mean air temperature during</text>
<text class="tt" x="34.8" y="25">the activity season</text>
<path d="M51.4 116.7V123.2M67 116.7V123.2M83.6 116.7V123.2M99.4 116.7V123.2M115.4 116.7V123.2M131.6 116.7V123.2" stroke="#111" stroke-width="1.1" fill="none"/>
<text class="tk" transform="translate(51,139.7) scale(1.05,1)" text-anchor="middle">6</text>
<text class="tk" transform="translate(66.6,139.7) scale(1.05,1)" text-anchor="middle">7</text>
<text class="tk" transform="translate(83,139.7) scale(1.05,1)" text-anchor="middle">8</text>
<text class="tk" transform="translate(99,139.7) scale(1.05,1)" text-anchor="middle">9</text>
<text class="tk" transform="translate(132,139.7) scale(1.05,1)" text-anchor="middle">11</text>
<text class="un" transform="translate(82,150.7) scale(0.95,1)" text-anchor="middle">°C</text>
<rect x="56" y="114.3" width="75.6" height="2.4" fill="#111"/>
<path d="M39.4 114.5V116.7M48 114.5V116.7M50 114.5V116.7M52.4 114.5V116.7" stroke="#111" stroke-width="1" fill="none"/>
<polyline points="39.6,73 47,72.8 50,72 55,71.6 59,70.6 63,69.8 68,69.2 72,68 75,67.4 79,65.4 83,63.6 87,61.6 90,60.6 99,60.6 102,63 105,65 108,68 111,70 114,72.4 117,74.6 120,75.6 124,77 128,78.6 129.6,77.6 131,79" fill="none" stroke="#43389f" stroke-width="1.5" stroke-linejoin="round" stroke-linecap="round"/>
</g>
<g transform="translate(411,1133.8)">
<rect x="35.45" y="33" width="98.3" height="83.7" fill="none" stroke="#111" stroke-width="1.25"/>
<path d="M29.25 113.6H35.45M29.25 98.1H35.45M29.25 82.6H35.45M29.25 67.1H35.45M29.25 51.6H35.45M29.25 36.1H35.45" stroke="#111" stroke-width="1.1" fill="none"/>
<text class="tk" transform="translate(20.8,113.9) rotate(-90) scale(1.05,1)" text-anchor="middle">0.0</text>
<text class="tk" transform="translate(20.8,82.9) rotate(-90) scale(1.05,1)" text-anchor="middle">0.4</text>
<text class="tk" transform="translate(20.8,51.9) rotate(-90) scale(1.05,1)" text-anchor="middle">0.8</text>
<text class="yl" transform="translate(11.2,78) rotate(-90) scale(0.945,1)" text-anchor="middle">Probability of presence</text>
<text class="tt" x="41" y="15">Day land surface</text>
<text class="tt" x="41" y="25.6">temperature (DLST)</text>
<path d="M50 116.7V123.2M66.4 116.7V123.2M82.6 116.7V123.2M99 116.7V123.2M115.4 116.7V123.2M131.4 116.7V123.2" stroke="#111" stroke-width="1.1" fill="none"/>
<text class="tk" transform="translate(49.4,139.7) scale(1.05,1)" text-anchor="middle">2</text>
<text class="tk" transform="translate(65.6,139.7) scale(1.05,1)" text-anchor="middle">4</text>
<text class="tk" transform="translate(82,139.7) scale(1.05,1)" text-anchor="middle">6</text>
<text class="tk" transform="translate(98.4,139.7) scale(1.05,1)" text-anchor="middle">8</text>
<text class="tk" transform="translate(131.6,139.7) scale(1.05,1)" text-anchor="middle">12</text>
<text class="un" transform="translate(81.6,151.1) scale(0.95,1)" text-anchor="middle">°C</text>
<rect x="49.6" y="114.3" width="81.4" height="2.4" fill="#111"/>
<path d="M39.4 114.5V116.7M41.4 114.5V116.7M43.4 114.5V116.7M45.4 114.5V116.7M47.4 114.5V116.7" stroke="#111" stroke-width="1" fill="none"/>
<polyline points="39.6,56 53,56 56,57 63,57.2 66,58 70,58.2 74,59.4 80,60.8 86,62 92,63.4 98,65 104,66.6 109,67.6 113,68.2 117,69 122,69.4 126,70 129,70.2 131,71.2" fill="none" stroke="#43389f" stroke-width="1.5" stroke-linejoin="round" stroke-linecap="round"/>
</g>
</svg></body></html>
